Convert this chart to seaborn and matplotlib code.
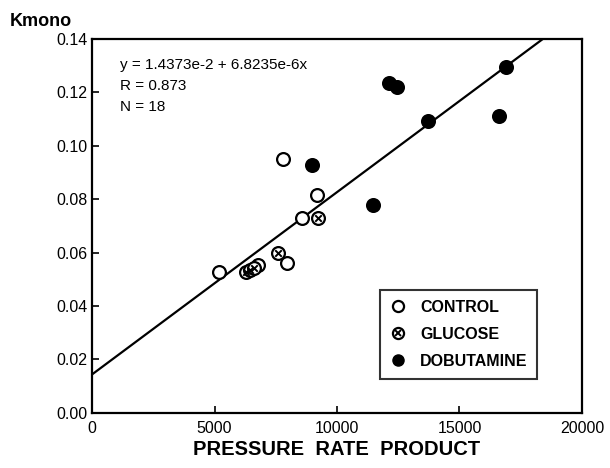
import pandas as pd
import seaborn as sns
import matplotlib
matplotlib.use('Agg')
import matplotlib.pyplot as plt
from matplotlib.legend_handler import HandlerTuple
from matplotlib.lines import Line2D
import numpy as np

# values
control_x = [5184, 7796, 9184, 8571, 7959, 6776]
control_y = [0.0527, 0.0951, 0.0815, 0.0730, 0.0562, 0.0555]
glucose_x = [9224, 7592, 6286, 6449, 6612]
glucose_y = [0.0729, 0.0599, 0.0526, 0.0533, 0.0541]
dobut_x = [8980, 11469, 12122, 12449, 13714, 16898, 16612]
dobut_y = [0.0928, 0.0779, 0.1235, 0.1220, 0.1092, 0.1295, 0.1111]

intercept = 1.4373e-2
slope = 6.8235e-6
r_value = 0.873

x_ticks = [0, 5000, 10000, 15000, 20000]
y_ticks = [0.00, 0.02, 0.04, 0.06, 0.08, 0.10, 0.12, 0.14]

df = pd.DataFrame({
    'prp': control_x + glucose_x + dobut_x,
    'kmono': control_y + glucose_y + dobut_y,
    'group': ['CONTROL'] * len(control_x) + ['GLUCOSE'] * len(glucose_x)
             + ['DOBUTAMINE'] * len(dobut_x),
})

sns.set_style('ticks')
plt.rcParams['font.family'] = ['Liberation Sans', 'DejaVu Sans']
plt.rcParams['xtick.direction'] = 'in'
plt.rcParams['ytick.direction'] = 'in'
plt.rcParams['text.color'] = 'black'
plt.rcParams['axes.labelcolor'] = 'black'

fig = plt.figure(figsize=(6.1, 4.68), dpi=100)
ax = fig.add_axes([0.151, 0.118, 0.803, 0.799])

ms = 85
lw = 1.6
ctrl = df[df['group'] == 'CONTROL']
gluc = df[df['group'] == 'GLUCOSE']
dobu = df[df['group'] == 'DOBUTAMINE']

sns.scatterplot(data=ctrl, x='prp', y='kmono', ax=ax, marker='o', s=ms,
                facecolor='white', edgecolor='black', linewidth=lw, zorder=3)
sns.scatterplot(data=gluc, x='prp', y='kmono', ax=ax, marker='o', s=ms,
                facecolor='white', edgecolor='black', linewidth=lw, zorder=3)
ax.scatter(gluc['prp'], gluc['kmono'], marker='x', s=22, color='black',
           linewidth=1.4, zorder=4)
sns.scatterplot(data=dobu, x='prp', y='kmono', ax=ax, marker='o', s=ms,
                color='black', edgecolor='black', linewidth=lw, zorder=3)

# regression line
xl = np.array([0, 20000])
ax.plot(xl, intercept + slope * xl, color='black', lw=1.6, zorder=2)

ax.set_xlim(0, 20000)
ax.set_ylim(0, 0.14)
ax.set_xticks(x_ticks)
ax.set_yticks(y_ticks)
ax.set_yticklabels([f'{v:.2f}' for v in y_ticks])
ax.tick_params(axis='both', labelsize=11.5, length=5, width=1.2, colors='black',
               top=False, right=False)
ax.tick_params(axis='x', pad=6)
for sp in ax.spines.values():
    sp.set_visible(True)
    sp.set_linewidth(1.6)
    sp.set_color('black')

ax.set_xlabel('PRESSURE  RATE  PRODUCT', fontsize=14.5, fontweight='bold', labelpad=3)
ax.set_ylabel('')
fig.text(0.016, 0.955, 'Kmono', fontsize=13, fontweight='bold', ha='left', va='center')

ax.text(0.057, 0.93, f'y = {intercept:.4e} + {slope:.4e}x'.replace('e-0', 'e-'),
        transform=ax.transAxes, fontsize=11, va='center')
ax.text(0.057, 0.874, f'R = {r_value:.3f}', transform=ax.transAxes, fontsize=11, va='center')
ax.text(0.057, 0.818, f'N = {len(df)}', transform=ax.transAxes, fontsize=11, va='center')

h_ctrl = Line2D([], [], marker='o', ls='', markersize=8, markerfacecolor='white',
                markeredgecolor='black', markeredgewidth=lw)
h_gl_o = Line2D([], [], marker='o', ls='', markersize=8, markerfacecolor='white',
                markeredgecolor='black', markeredgewidth=lw)
h_gl_x = Line2D([], [], marker='x', ls='', markersize=4.5, color='black', markeredgewidth=1.4)
h_dob = Line2D([], [], marker='o', ls='', markersize=8, markerfacecolor='black',
               markeredgecolor='black')
leg = ax.legend([h_ctrl, (h_gl_o, h_gl_x), h_dob], ['CONTROL', 'GLUCOSE', 'DOBUTAMINE'],
                handler_map={tuple: HandlerTuple(ndivide=1, pad=0)},
                loc='lower right', bbox_to_anchor=(0.925, 0.07), frameon=True,
                fancybox=False, edgecolor='black', handlelength=1.0, handletextpad=0.9,
                borderpad=0.6, labelspacing=0.75, prop={'weight': 'bold', 'size': 11.5})
leg.get_frame().set_linewidth(1.5)

fig.savefig('out.png', dpi=100)
